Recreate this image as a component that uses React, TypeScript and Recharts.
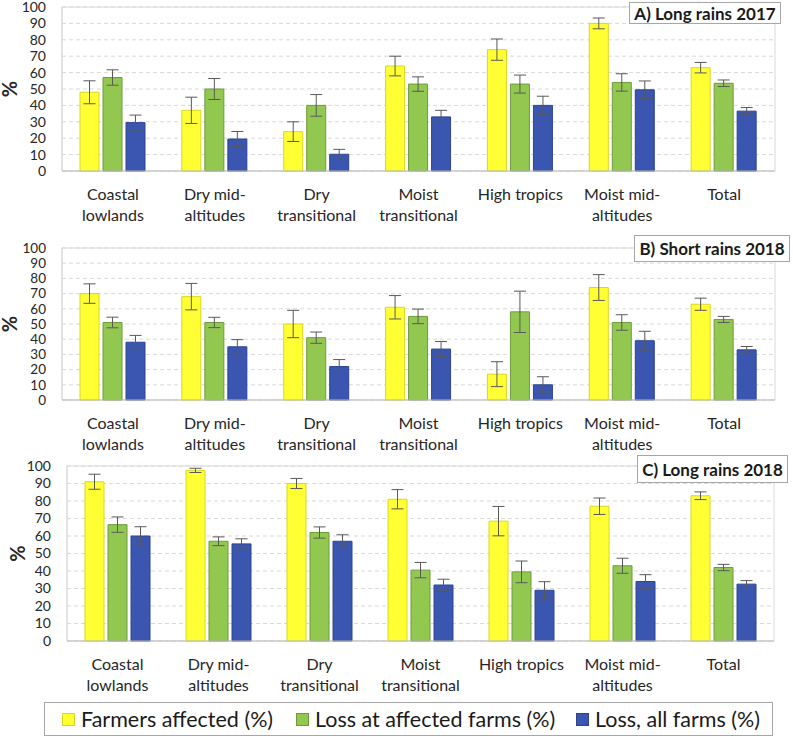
import React from 'react';
import { BarChart, Bar, XAxis, YAxis, CartesianGrid, ErrorBar, ReferenceArea } from 'recharts';

const categories = [
  'Coastal lowlands',
  'Dry mid-altitudes',
  'Dry transitional',
  'Moist transitional',
  'High tropics',
  'Moist mid-altitudes',
  'Total',
];
const categoryLines: Record<string, string[]> = {
  'Coastal lowlands': ['Coastal', 'lowlands'],
  'Dry mid-altitudes': ['Dry mid-', 'altitudes'],
  'Dry transitional': ['Dry', 'transitional'],
  'Moist transitional': ['Moist', 'transitional'],
  'High tropics': ['High tropics'],
  'Moist mid-altitudes': ['Moist mid-', 'altitudes'],
  'Total': ['Total'],
};
const yTicks = [0, 10, 20, 30, 40, 50, 60, 70, 80, 90, 100];

// A) Long rains 2017
const farmersA = [48, 37, 24, 64, 74, 90, 63];
const farmersAErr = [7, 8, 6, 6, 6.5, 3.3, 3.2];
const lossAffectedA = [57, 50, 40, 53, 53, 54, 53.5];
const lossAffectedAErr = [4.7, 6.4, 6.6, 4.4, 5.5, 5.3, 2];
const lossAllA = [29.5, 19.5, 10.2, 33, 40, 49.5, 36.5];
const lossAllAErr = [4.6, 4.6, 3, 4, 5.6, 5.4, 2.2];

// B) Short rains 2018
const farmersB = [70, 68, 50, 61, 17, 74, 63];
const farmersBErr = [6.4, 8.7, 9, 7.7, 8.2, 8.5, 4];
const lossAffectedB = [51, 51, 41, 55, 58, 51, 53];
const lossAffectedBErr = [3.5, 3.4, 3.7, 4.8, 13.6, 5.1, 2];
const lossAllB = [38, 35, 22, 33.5, 10, 39, 33];
const lossAllBErr = [4.5, 4.7, 4.6, 5, 5.3, 6.2, 2.2];

// C) Long rains 2018
const farmersC = [91, 97.5, 90, 81, 68.5, 77, 83];
const farmersCErr = [4.3, 1.2, 2.9, 5.5, 8.4, 4.7, 2.2];
const lossAffectedC = [66.5, 57, 62, 40.5, 39.5, 43, 42];
const lossAffectedCErr = [4.4, 2.5, 3.2, 4.4, 6.2, 4.3, 1.8];
const lossAllC = [60, 55.5, 57, 32, 29, 34, 32.5];
const lossAllCErr = [5.3, 2.9, 3.7, 3.3, 4.9, 3.9, 2];

const FONT = 'Lato, "Open Sans", sans-serif';
const YELLOW = '#ffff33';
const GREEN = '#92c850';
const BLUE = '#3a56b0';

const build = (f: number[], fe: number[], g: number[], ge: number[], b: number[], be: number[]) =>
  categories.map((name, i) => ({
    name,
    farmers: f[i],
    farmersErr: fe[i],
    lossAffected: g[i],
    lossAffectedErr: ge[i],
    lossAll: b[i],
    lossAllErr: be[i],
  }));

const CategoryTick = ({ x, y, payload }: any) => {
  const lines = categoryLines[payload.value] || [payload.value];
  return (
    <text x={x} y={y} textAnchor="middle" fill="#262626" fontSize={16} fontFamily={FONT}>
      {lines.map((l, i) => (
        <tspan key={i} x={x} dy={21}>
          {l}
        </tspan>
      ))}
    </text>
  );
};

interface PanelProps {
  data: any[];
  top: number;
  height: number;
  marginTop: number;
  left: number;
  right: number;
  axisHeight: number;
  tickSize: number;
  labelOffset: number;
  title: string;
  box: { left: number; top: number; width: number; height: number };
}

const Panel: React.FC<PanelProps> = ({ data, top, height, marginTop, left, right, axisHeight, tickSize, labelOffset, title, box }) => (
  <div style={{ position: 'absolute', left: 0, top, width: 793, height }}>
    <BarChart
      width={793}
      height={height}
      data={data}
      margin={{ top: marginTop, right, left: 0, bottom: 0 }}
      barSize={19}
      barGap={4}
    >
      <CartesianGrid vertical={false} stroke="#d9d9d9" strokeDasharray="4 3" />
      <ReferenceArea y1={0} y2={100} fill="none" stroke="#d9d9d9" strokeWidth={1} />
      <XAxis
        dataKey="name"
        interval={0}
        height={axisHeight}
        axisLine={{ stroke: '#bfbfbf' }}
        tickLine={false}
        tick={<CategoryTick />}
      />
      <YAxis
        width={left}
        domain={[0, 100]}
        ticks={yTicks}
        interval={0}
        axisLine={{ stroke: '#d9d9d9' }}
        tickLine={false}
        tickMargin={10}
        tick={{ fontSize: tickSize, fill: '#262626', fontFamily: FONT }}
        label={{
          value: '%',
          angle: -90,
          position: 'insideLeft',
          offset: labelOffset,
          style: { fontSize: 20, fontWeight: 700, fill: '#262626', fontFamily: FONT, textAnchor: 'middle' },
        }}
      />
      <Bar dataKey="farmers" name="Farmers affected (%)" fill={YELLOW} stroke="#d8d820" isAnimationActive={false}>
        <ErrorBar dataKey="farmersErr" width={6} stroke="#595959" strokeWidth={1} direction="y" />
      </Bar>
      <Bar dataKey="lossAffected" name="Loss at affected farms (%)" fill={GREEN} stroke="#6f9a3c" isAnimationActive={false}>
        <ErrorBar dataKey="lossAffectedErr" width={6} stroke="#595959" strokeWidth={1} direction="y" />
      </Bar>
      <Bar dataKey="lossAll" name="Loss, all farms (%)" fill={BLUE} stroke="#2c4490" isAnimationActive={false}>
        <ErrorBar dataKey="lossAllErr" width={6} stroke="#595959" strokeWidth={1} direction="y" />
      </Bar>
    </BarChart>
    <div
      style={{
        position: 'absolute',
        left: box.left,
        top: box.top,
        width: box.width,
        height: box.height,
        boxSizing: 'border-box',
        border: '1px solid #a6a6a6',
        background: '#fff',
        fontFamily: FONT,
        fontWeight: 700,
        fontSize: 17,
        color: '#1a1a1a',
        display: 'flex',
        alignItems: 'center',
        justifyContent: 'center',
        whiteSpace: 'nowrap',
      }}
    >
      {title}
    </div>
  </div>
);

const legendItems = [
  { label: 'Farmers affected (%)', color: YELLOW, border: '#d8d820', x: 62 },
  { label: 'Loss at affected farms (%)', color: GREEN, border: '#6f9a3c', x: 296 },
  { label: 'Loss, all farms (%)', color: BLUE, border: '#2c4490', x: 576 },
];

const App: React.FC = () => {
  const dataA = build(farmersA, farmersAErr, lossAffectedA, lossAffectedAErr, lossAllA, lossAllAErr);
  const dataB = build(farmersB, farmersBErr, lossAffectedB, lossAffectedBErr, lossAllB, lossAllBErr);
  const dataC = build(farmersC, farmersCErr, lossAffectedC, lossAffectedCErr, lossAllC, lossAllCErr);

  return (
    <div style={{ position: 'absolute', left: 0, top: 0, width: 793, height: 738, background: '#fff', overflow: 'hidden' }}>
      <Panel
        data={dataA}
        top={0}
        height={232}
        marginTop={7}
        left={62}
        right={18}
        axisHeight={61}
        tickSize={14}
        labelOffset={10}
        title="A) Long rains 2017"
        box={{ left: 629, top: 2, width: 152, height: 22 }}
      />
      <Panel
        data={dataB}
        top={225}
        height={232}
        marginTop={23}
        left={62}
        right={18}
        axisHeight={57}
        tickSize={13.5}
        labelOffset={10}
        title="B) Short rains 2018"
        box={{ left: 634, top: 10, width: 156, height: 27 }}
      />
      <Panel
        data={dataC}
        top={450}
        height={250}
        marginTop={16}
        left={67}
        right={19}
        axisHeight={59}
        tickSize={14}
        labelOffset={18}
        title="C) Long rains 2018"
        box={{ left: 637, top: 5, width: 151, height: 28 }}
      />
      <div
        style={{
          position: 'absolute',
          left: 44,
          top: 702,
          width: 729,
          height: 34,
          boxSizing: 'border-box',
          border: '1px solid #a6a6a6',
          background: '#fff',
          fontFamily: FONT,
          fontSize: 21.5,
          color: '#1a1a1a',
        }}
      >
        {legendItems.map((it, i) => (
          <div
            key={i}
            style={{
              position: 'absolute',
              left: it.x - 45,
              top: 0,
              height: 32,
              display: 'flex',
              alignItems: 'center',
              whiteSpace: 'nowrap',
            }}
          >
            <span
              style={{
                display: 'inline-block',
                width: 13,
                height: 13,
                background: it.color,
                border: `1px solid ${it.border}`,
                boxSizing: 'border-box',
                marginRight: 6,
              }}
            />
            <span>{it.label}</span>
          </div>
        ))}
      </div>
    </div>
  );
};

export default App;
